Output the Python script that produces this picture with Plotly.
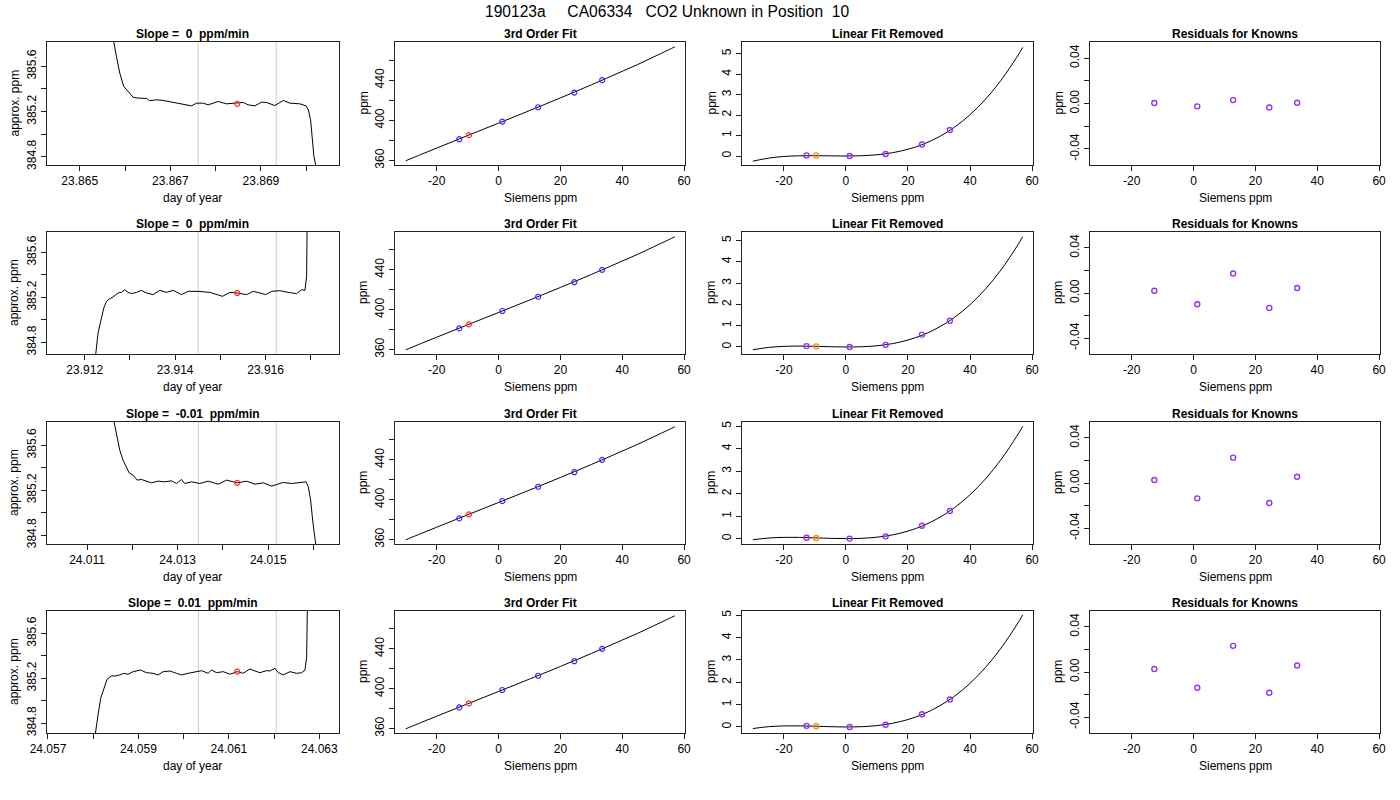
import plotly.graph_objects as go

W, H = 1400, 800

# ---------------- data ----------------
main_title = "190123a\u00a0\u00a0\u00a0\u00a0\u00a0CA06334\u00a0\u00a0\u00a0CO2 Unknown in Position\u00a0\u00a010"
slope_text = ["0", "0", "-0.01", "0.01"]

# time series (day of year, approx. ppm) for each of the 4 runs
day_r1 = [23.865707, 23.865751, 23.865810, 23.865884, 23.865972, 23.866068, 23.866179, 23.866289, 23.866473, 23.866547,
          23.866694, 23.866842, 23.866989, 23.867136, 23.867284, 23.867468, 23.867578, 23.867726, 23.867836, 23.868057,
          23.868241, 23.868389, 23.868610, 23.868720, 23.868867, 23.869015, 23.869125, 23.869309, 23.869494, 23.869641,
          23.869862, 23.869994, 23.870046, 23.870097, 23.870142, 23.870171, 23.870208, 23.870245]
ppm_r1 = [386.30, 385.82, 385.689, 385.541, 385.422, 385.378, 385.327, 385.319, 385.316, 385.295,
          385.304, 385.298, 385.286, 385.280, 385.268, 385.250, 385.274, 385.274, 385.259, 385.289,
          385.268, 385.274, 385.280, 385.259, 385.250, 385.283, 385.280, 385.253, 385.298, 385.274,
          385.268, 385.250, 385.215, 385.126, 384.948, 384.800, 384.726, 384.55]

day_r2 = [23.912207, 23.912244, 23.912295, 23.912354, 23.912421, 23.912480, 23.912554, 23.912627, 23.912686, 23.912738,
          23.912812, 23.912886, 23.912959, 23.913033, 23.913144, 23.913255, 23.913365, 23.913513, 23.913661, 23.913808,
          23.913956, 23.914140, 23.914288, 23.914509, 23.914768, 23.914915, 23.915048, 23.915210, 23.915373, 23.915579,
          23.915727, 23.915875, 23.916000, 23.916133, 23.916317, 23.916502, 23.916686, 23.916797, 23.916871, 23.916908,
          23.916923, 23.916930]
ppm_r2 = [384.646, 384.696, 384.883, 385.001, 385.105, 385.164, 385.188, 385.203, 385.224, 385.239,
          385.244, 385.268, 385.244, 385.233, 385.244, 385.262, 385.239, 385.224, 385.262, 385.244,
          385.262, 385.224, 385.253, 385.253, 385.244, 385.224, 385.209, 385.244, 385.239, 385.224,
          385.253, 385.239, 385.224, 385.253, 385.259, 385.244, 385.233, 385.268, 385.262, 385.387,
          385.95, 386.3]

day_r3 = [24.011560, 24.011597, 24.011648, 24.011722, 24.011796, 24.011855, 24.011928, 24.012017, 24.012105, 24.012201,
          24.012311, 24.012422, 24.012569, 24.012716, 24.012864, 24.012974, 24.013085, 24.013158, 24.013306, 24.013490,
          24.013674, 24.013895, 24.014079, 24.014315, 24.014521, 24.014705, 24.014890, 24.015074, 24.015184, 24.015332,
          24.015516, 24.015700, 24.015832, 24.015884, 24.015936, 24.015980, 24.016017, 24.016046, 24.016083]
ppm_r3 = [385.881, 385.807, 385.674, 385.556, 385.467, 385.422, 385.354, 385.333, 385.289, 385.295,
          385.283, 385.265, 385.280, 385.274, 385.283, 385.259, 385.295, 385.259, 385.274, 385.259,
          385.280, 385.253, 385.289, 385.265, 385.280, 385.253, 385.265, 385.236, 385.250, 385.268,
          385.259, 385.265, 385.274, 385.230, 385.111, 384.933, 384.785, 384.720, 384.607]

day_r4 = [24.058018, 24.058055, 24.058107, 24.058166, 24.058232, 24.058306, 24.058402, 24.058498, 24.058587, 24.058675,
          24.058771, 24.058882, 24.059044, 24.059177, 24.059325, 24.059435, 24.059546, 24.059694, 24.059841, 24.059952,
          24.060100, 24.060247, 24.060395, 24.060542, 24.060616, 24.060727, 24.060875, 24.061022, 24.061185, 24.061317,
          24.061465, 24.061576, 24.061686, 24.061834, 24.061908, 24.062018, 24.062092, 24.062203, 24.062351, 24.062498,
          24.062609, 24.062683, 24.062720, 24.062734, 24.062742]
ppm_r4 = [384.622, 384.711, 384.874, 385.022, 385.111, 385.191, 385.221, 385.221, 385.230, 385.244,
          385.236, 385.259, 385.274, 385.250, 385.244, 385.230, 385.259, 385.265, 385.244, 385.230,
          385.244, 385.259, 385.268, 385.244, 385.274, 385.250, 385.259, 385.236, 385.259, 385.244,
          385.283, 385.265, 385.250, 385.268, 385.265, 385.289, 385.250, 385.230, 385.259, 385.244,
          385.250, 385.274, 385.393, 385.801, 386.0]

# averaging window (grey lines) and its midpoint value (red point)
win_start = [23.867615, 23.914509, 24.013460, 24.060328]
win_end = [23.869339, 23.916236, 24.015177, 24.062048]
mid_day = [23.868477, 23.915373, 24.014315, 24.061185]
mid_ppm = [385.268, 385.239, 385.265, 385.259]

# time axis ticks
ts_ticks_r1 = [23.865, 23.866, 23.867, 23.868, 23.869, 23.870]
ts_labels_r1 = ["23.865", "", "23.867", "", "23.869", ""]
ts_ticks_r2 = [23.912, 23.913, 23.914, 23.915, 23.916, 23.917]
ts_labels_r2 = ["23.912", "", "23.914", "", "23.916", ""]
ts_ticks_r3 = [24.011, 24.012, 24.013, 24.014, 24.015, 24.016]
ts_labels_r3 = ["24.011", "", "24.013", "", "24.015", ""]
ts_ticks_r4 = [24.057, 24.058, 24.059, 24.060, 24.061, 24.062, 24.063]
ts_labels_r4 = ["24.057", "", "24.059", "", "24.061", "", "24.063"]
ppm_ticks = [384.8, 385.0, 385.2, 385.4, 385.6]
ppm_labels = ["384.8", "", "385.2", "", "385.6"]

# calibration: standards (knowns) and the unknown
known_siemens = [-12.7, 1.2, 12.8, 24.5, 33.5]
known_ppm = [381.2, 398.7, 413.0, 427.6, 440.0]
unknown_siemens = -9.6
unknown_ppm = 385.2

# fitted 3rd order curve, read at these Siemens values
curve_siemens = [-30, -25, -20, -15, -10, -5, 0, 5, 10, 15, 20, 25, 30, 35, 40, 45, 50, 55, 57]
curve_ppm = [359.75, 366.09, 372.38, 378.61, 384.82, 391.01, 397.20, 403.41, 409.66, 415.96,
             422.33, 428.78, 435.34, 442.01, 448.82, 455.57, 462.90, 470.21, 473.19]

# curve with linear fit removed, per run
nonlin_r1 = [-0.252, -0.106, -0.024, 0.011, 0.016, 0.007, 0.0, 0.012, 0.060, 0.160,
             0.328, 0.581, 0.936, 1.409, 2.016, 2.774, 3.700, 4.810, 5.309]
nonlin_r2 = [-0.130, -0.023, 0.029, 0.042, 0.031, 0.012, 0.0, 0.010, 0.057, 0.157,
             0.326, 0.577, 0.928, 1.392, 1.986, 2.725, 3.624, 4.698, 5.180]
nonlin_r3 = [-0.050, 0.025, 0.055, 0.054, 0.035, 0.012, 0.0, 0.012, 0.063, 0.165,
             0.334, 0.583, 0.926, 1.378, 1.951, 2.660, 3.519, 4.542, 5.000]
nonlin_r4 = [-0.070, 0.012, 0.047, 0.049, 0.033, 0.012, 0.0, 0.012, 0.062, 0.165,
             0.333, 0.582, 0.926, 1.378, 1.953, 2.666, 3.530, 4.559, 5.020]
known_nonlin_r1 = [0.03, 0.0, 0.10, 0.56, 1.27]
known_nonlin_r2 = [0.04, 0.0, 0.10, 0.58, 1.23]
known_nonlin_r3 = [0.04, 0.0, 0.10, 0.57, 1.23]
known_nonlin_r4 = [0.05, 0.0, 0.10, 0.57, 1.23]
unknown_nonlin = [0.03, 0.03, 0.03, 0.03]

# residuals for knowns
resid_r1 = [0.0005, -0.0025, 0.0030, -0.0035, 0.0006]
resid_r2 = [0.0020, -0.0100, 0.0173, -0.0132, 0.0044]
resid_r3 = [0.0027, -0.0136, 0.0225, -0.0177, 0.0056]
resid_r4 = [0.0027, -0.0140, 0.0232, -0.0184, 0.0057]

siemens_ticks = [-20, 0, 20, 40, 60]
siemens_labels = ["-20", "0", "20", "40", "60"]
fit_ticks = [360, 380, 400, 420, 440, 460]
fit_labels = ["360", "", "400", "", "440", ""]
lin_ticks = [0, 1, 2, 3, 4, 5]
res_ticks = [-0.04, -0.02, 0.0, 0.02, 0.04]
res_labels = ["-0.04", "", "0.00", "", "0.04"]

# ---------------- layout helpers ----------------
days = [day_r1, day_r2, day_r3, day_r4]
ppms = [ppm_r1, ppm_r2, ppm_r3, ppm_r4]
ts_ticks = [ts_ticks_r1, ts_ticks_r2, ts_ticks_r3, ts_ticks_r4]
ts_labels = [ts_labels_r1, ts_labels_r2, ts_labels_r3, ts_labels_r4]
nonlins = [nonlin_r1, nonlin_r2, nonlin_r3, nonlin_r4]
known_nonlins = [known_nonlin_r1, known_nonlin_r2, known_nonlin_r3, known_nonlin_r4]
resids = [resid_r1, resid_r2, resid_r3, resid_r4]

ts_xrange = [[23.864278, 23.870724], [23.911166, 23.917624], [24.010116, 24.016562], [24.056978, 24.063435]]
ts_yrange = [[384.726, 385.816], [384.696, 385.781], [384.720, 385.807], [384.711, 385.801]]
lin_yrange = [[-0.44, 5.57], [-0.33, 5.40], [-0.24, 5.19], [-0.27, 5.19]]
siem_range = [-33.5, 60.3]

col_px = [(47, 339), (395, 685), (742, 1033), (1090, 1380)]
row_px = [(42, 165), (232, 354), (422, 544), (611, 733)]

FONT = "Liberation Sans, Arial, Helvetica, sans-serif"
BLUE = "#2f2fff"
RED = "#ff2a2a"
PURPLE = "#9a30f0"
ORANGE = "#ff8c1a"

fig = go.Figure()
layout = dict(template="none", width=W, height=H, margin=dict(l=0, r=0, t=0, b=0, pad=0),
              autosize=False,
              paper_bgcolor="white", plot_bgcolor="white", showlegend=False,
              font=dict(family=FONT, size=12, color="black"))
annotations = []
shapes = []


def suffix(n):
    return "" if n == 1 else str(n)


def ann(text, px, py, size=12, bold=False, angle=0):
    t = "<b>" + text + "</b>" if bold else text
    annotations.append(dict(text=t, x=px / W, y=1 - py / H, xref="paper", yref="paper",
                            showarrow=False, xanchor="center", yanchor="middle",
                            textangle=angle, font=dict(family=FONT, size=size, color="black")))


common = dict(showline=True, mirror=True, linecolor="#222", linewidth=1, ticks="outside",
              ticklen=5, tickcolor="#222", showgrid=False, zeroline=False, automargin=False,
              tickfont=dict(family=FONT, size=12, color="black"))

titles = ["Slope = ", "3rd Order Fit", "Linear Fit Removed", "Residuals for Knowns"]
MS = 5

for r in range(4):
    for c in range(4):
        n = r * 4 + c + 1
        s = suffix(n)
        x0p, x1p = col_px[c]
        y0p, y1p = row_px[r]
        xa = dict(domain=[x0p / W, x1p / W], anchor="y" + s, **common)
        ya = dict(domain=[1 - y1p / H, 1 - y0p / H], anchor="x" + s, tickangle=-90, **common)
        tr = dict(xaxis="x" + s, yaxis="y" + s)
        if c == 0:
            xa.update(range=ts_xrange[r], tickvals=ts_ticks[r], ticktext=ts_labels[r])
            ya.update(range=ts_yrange[r], tickvals=ppm_ticks, ticktext=ppm_labels)
            for xv in (win_start[r], win_end[r]):
                shapes.append(dict(type="line", xref="x" + s, yref="y" + s + " domain",
                                   x0=xv, x1=xv, y0=0, y1=1,
                                   line=dict(color="#cfcfcf", width=1), layer="below"))
            fig.add_trace(go.Scatter(x=days[r], y=ppms[r], mode="lines",
                                     line=dict(color="black", width=1), **tr))
            fig.add_trace(go.Scatter(x=[mid_day[r]], y=[mid_ppm[r]], mode="markers",
                                     marker=dict(symbol="circle-open", size=MS, color=RED,
                                                 line=dict(width=1.2, color=RED)), **tr))
            title = "Slope =\u00a0\u00a0" + slope_text[r] + "\u00a0\u00a0ppm/min"
            xt, yt = "day of year", "approx. ppm"
        elif c == 1:
            xa.update(range=siem_range, tickvals=siemens_ticks, ticktext=siemens_labels)
            ya.update(range=[355.5, 478.0], tickvals=fit_ticks, ticktext=fit_labels)
            fig.add_trace(go.Scatter(x=curve_siemens, y=curve_ppm, mode="lines",
                                     line=dict(color="black", width=1, shape="spline"), **tr))
            fig.add_trace(go.Scatter(x=known_siemens, y=known_ppm, mode="markers",
                                     marker=dict(symbol="circle-open", size=MS, color=BLUE,
                                                 line=dict(width=1.2, color=BLUE)), **tr))
            fig.add_trace(go.Scatter(x=[unknown_siemens], y=[unknown_ppm], mode="markers",
                                     marker=dict(symbol="circle-open", size=MS, color=RED,
                                                 line=dict(width=1.2, color=RED)), **tr))
            title = titles[1]
            xt, yt = "Siemens ppm", "ppm"
        elif c == 2:
            xa.update(range=siem_range, tickvals=siemens_ticks, ticktext=siemens_labels)
            ya.update(range=lin_yrange[r], tickvals=lin_ticks)
            fig.add_trace(go.Scatter(x=curve_siemens, y=nonlins[r], mode="lines",
                                     line=dict(color="black", width=1, shape="spline"), **tr))
            fig.add_trace(go.Scatter(x=known_siemens, y=known_nonlins[r], mode="markers",
                                     marker=dict(symbol="circle-open", size=MS, color=PURPLE,
                                                 line=dict(width=1.4, color=PURPLE)), **tr))
            fig.add_trace(go.Scatter(x=[unknown_siemens], y=[unknown_nonlin[r]], mode="markers",
                                     marker=dict(symbol="circle-open", size=MS, color=ORANGE,
                                                 line=dict(width=1.4, color=ORANGE)), **tr))
            title = titles[2]
            xt, yt = "Siemens ppm", "ppm"
        else:
            xa.update(range=siem_range, tickvals=siemens_ticks, ticktext=siemens_labels)
            ya.update(range=[-0.0541, 0.0541], tickvals=res_ticks, ticktext=res_labels)
            fig.add_trace(go.Scatter(x=known_siemens, y=resids[r], mode="markers",
                                     marker=dict(symbol="circle-open", size=MS, color=PURPLE,
                                                 line=dict(width=1.4, color=PURPLE)), **tr))
            title = titles[3]
            xt, yt = "Siemens ppm", "ppm"
        layout["xaxis" + s] = xa
        layout["yaxis" + s] = ya
        cx = (x0p + x1p) / 2
        cy = (y0p + y1p) / 2
        ann(title, cx, y0p - 8, size=12, bold=True)
        ann(xt, cx, y1p + 33, size=12)
        ylab_off = [33, 32, 31, 32][c]
        ann(yt, x0p - ylab_off, cy, size=12, angle=-90)

annotations.append(dict(text=main_title, x=483 / W, y=1 - 11 / H, xref="paper", yref="paper",
                        showarrow=False, xanchor="left", yanchor="middle",
                        font=dict(family=FONT, size=15.6, color="black")))

layout["annotations"] = annotations
layout["shapes"] = shapes
fig.update_layout(**layout)
fig.write_html("out.html", config={"displayModeBar": False},
               post_script="document.body.style.margin='0px';document.body.style.overflow='hidden';")
